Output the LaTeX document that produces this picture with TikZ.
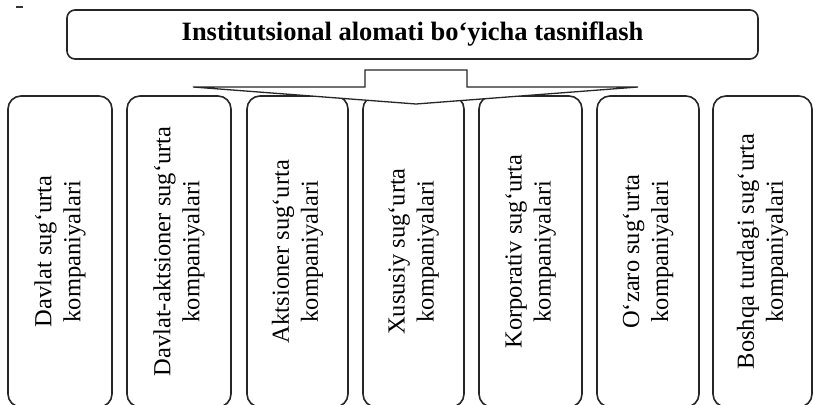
\documentclass[tikz,border=0pt]{standalone}
\usepackage{fontspec}
\setmainfont{Liberation Serif}
\begin{document}
\begin{tikzpicture}[x=1pt,y=-1pt,
  titlebox/.style={draw=black!85, line width=1.6pt, rounded corners=8pt, fill=white,
    minimum width=691pt, minimum height=49pt, inner sep=0pt,
    font=\fontsize{26.5}{30}\selectfont\bfseries},
  cbox/.style={draw=black!85, line width=1.6pt, rounded corners=13pt, fill=white,
    rotate=90, minimum width=311pt, inner sep=0pt, align=center,
    font=\fontsize{24.5}{29}\selectfont},
  blockarrow/.style={draw=black!85, line width=1.3pt, fill=white, line join=miter}
]
\useasboundingbox (0,0) rectangle (813,404);
\clip (0,0) rectangle (813,404);
\fill[white] (0,0) rectangle (813,404);
% small mark top-left
\coordinate (m1) at (16,7);
\coordinate (m2) at (23,7);
\draw[line width=2pt, black!80] (m1) -- (m2);
% title
\node[titlebox] (title) at (412.5,34.5) {Institutsional alomati bo‘yicha tasniflash};
% boxes (rotated: minimum height = box width)
\node[cbox, minimum height=104pt] (b1) at (60,251.5) {Davlat sug‘urta\\kompaniyalari};
\node[cbox, minimum height=104pt] (b2) at (179,251.5) {Davlat-aktsioner sug‘urta\\kompaniyalari};
\node[cbox, minimum height=101pt] (b3) at (297.5,251.5) {Aktsioner sug‘urta\\kompaniyalari};
\node[cbox, minimum height=101pt] (b4) at (413.5,251.5) {Xususiy sug‘urta\\kompaniyalari};
\node[cbox, minimum height=103pt] (b5) at (530.5,251.5) {Korporativ sug‘urta\\kompaniyalari};
\node[cbox, minimum height=102pt] (b6) at (648,251.5) {O‘zaro sug‘urta\\kompaniyalari};
\node[cbox, minimum height=99pt] (b7) at (762.5,251.5) {Boshqa turdagi sug‘urta\\kompaniyalari};
% block arrow from title down to the boxes
\coordinate (tip) at (416,104);
\draw[blockarrow] (193,87) -- (365,87) -- (365,70) -- (467,70) -- (467,87) -- (638,87) -- (tip) -- cycle;
\end{tikzpicture}
\end{document}
